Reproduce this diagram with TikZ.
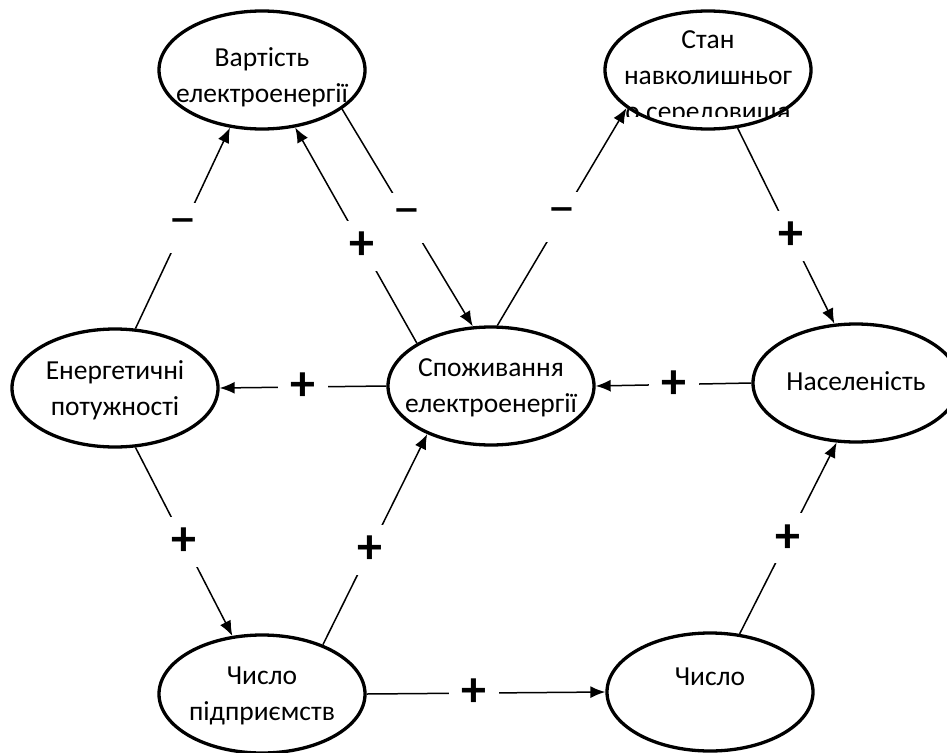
\documentclass[tikz,border=0pt]{standalone}
\usepackage{fontspec}
\setmainfont{Carlito}
\usetikzlibrary{shapes.geometric,arrows.meta}
\tikzset{
  factor/.style={ellipse,draw,line width=3.3pt,minimum width=206pt,minimum height=118pt,inner sep=0pt},
  factortext/.style={align=center,inner sep=0pt,font=\fontsize{27.5}{36}\selectfont},
  sign/.style={fill=white,minimum size=50pt,inner sep=0pt,font=\fontsize{50}{50}\selectfont\bfseries},
  minus/.style={sign,font=\fontsize{54}{54}\selectfont},
  link/.style={line width=1.5pt,-{Latex[length=15pt,width=12pt]}}
}
\begin{document}
\begin{tikzpicture}[x=1pt,y=-1pt]
      \useasboundingbox (0,0) rectangle (947,752);
      \node[factor] (vart) at (262,70) {};
      \node[factor] (stan) at (708,70) {};
      \node[factor] (energ) at (115,388) {};
      \node[factor] (spoz) at (491,386) {};
      \node[factor] (nasel) at (856,383) {};
      \node[factor] (pidpr) at (262,694) {};
      \node[factor] (chyslo) at (710,692) {};
      \node[factortext,yshift=-7.5pt] (vart-t) at (vart) {Вартість\\електроенергії};
      \node[factortext,yshift=-2pt] (energ-t) at (energ) {Енергетичні\\потужності};
      \node[factortext,yshift=-2pt] (spoz-t) at (spoz) {Споживання\\електроенергії};
      \node[factortext,yshift=2pt] (nasel-t) at (nasel) {Населеність};
      \node[factortext,yshift=-2pt] (pidpr-t) at (pidpr) {Число\\підприємств};
      \node[factortext,yshift=15pt] (chyslo-t) at (chyslo) {Число};
      \begin{scope}
        \clip (590,0) rectangle (830,116);
        \node[factortext,yshift=-8pt] (stan-t) at (stan) {Стан\\навколишньог\\о середовища};
      \end{scope}
      \begin{scope}[link]
        \draw (energ.71) to node[minus] {−} (vart.241);
        \draw (spoz.150) to node[sign,pos=0.45] {+} (vart.300);
        \draw (vart.334) to node[minus] {−} (spoz.107);
        \draw (spoz.84) to node[minus] {−} (stan.205);
        \draw (stan.297) to node[sign,pos=0.55] {+} (nasel.110);
        \draw (nasel.west) to node[sign] {+} (spoz.east);
        \draw (spoz.west) to node[sign] {+} (energ.east);
        \draw (energ.289) to node[sign] {+} (pidpr.117);
        \draw (pidpr.39) to node[sign,pos=0.45] {+} (spoz.217);
        \draw (pidpr.east) to node[sign,pos=0.45] {+} (chyslo.west);
        \draw (chyslo.63) to node[sign] {+} (nasel.252);
      \end{scope}
    \end{tikzpicture}
\end{document}
